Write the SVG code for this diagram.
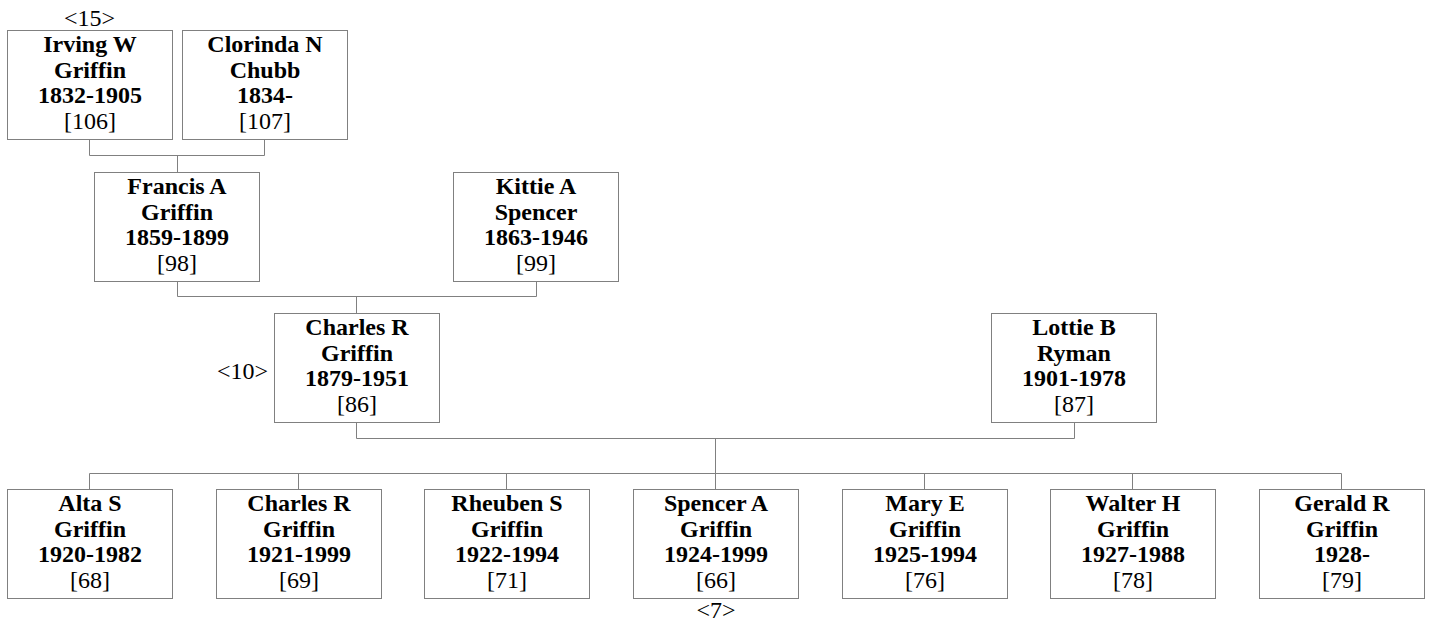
<svg xmlns="http://www.w3.org/2000/svg" width="1430" height="624" viewBox="0 0 1430 624">
<style>
.box{fill:#fff;stroke:#808080;stroke-width:1}
.ln{fill:none;stroke:#808080;stroke-width:1}
text{font-family:"Liberation Serif","Times New Roman",serif;font-size:24px;fill:#000;text-anchor:middle}
.b{font-weight:bold}
</style>
<rect width="1430" height="624" fill="#fff"/>
<g id="connectors">
<path class="ln" d="M89.5 140 V155.5 H264.5 V140 M177.5 155.5 V172"/>
<path class="ln" d="M177.5 281 V296.5 H536.5 V281 M356.5 296.5 V313"/>
<path class="ln" d="M356.5 422 V438.5 H1074.5 V422 M715.5 438.5 V473.5"/>
<path class="ln" d="M89.5 473.5 H1341.5 M89.5 473.5 V489 M298.5 473.5 V489 M506.5 473.5 V489 M715.5 473.5 V489 M924.5 473.5 V489 M1132.5 473.5 V489 M1341.5 473.5 V489"/>
</g>
<g id="n106"><rect class="box" x="7.5" y="30.5" width="165" height="109"/><text x="90" y="51.5" class="b">Irving W</text><text x="90" y="77.5" class="b">Griffin</text><text x="90" y="103" class="b">1832-1905</text><text x="90" y="129">[106]</text></g>
<g id="n107"><rect class="box" x="182.5" y="30.5" width="165" height="109"/><text x="265" y="51.5" class="b">Clorinda N</text><text x="265" y="77.5" class="b">Chubb</text><text x="265" y="103" class="b">1834-</text><text x="265" y="129">[107]</text></g>
<text x="89.5" y="26">&lt;15&gt;</text>
<g id="n98"><rect class="box" x="94.5" y="172.5" width="165" height="109"/><text x="177" y="193.5" class="b">Francis A</text><text x="177" y="219.5" class="b">Griffin</text><text x="177" y="245" class="b">1859-1899</text><text x="177" y="271">[98]</text></g>
<g id="n99"><rect class="box" x="453.5" y="172.5" width="165" height="109"/><text x="536" y="193.5" class="b">Kittie A</text><text x="536" y="219.5" class="b">Spencer</text><text x="536" y="245" class="b">1863-1946</text><text x="536" y="271">[99]</text></g>
<g id="n86"><rect class="box" x="274.5" y="313.5" width="165" height="109"/><text x="357" y="334.5" class="b">Charles R</text><text x="357" y="360.5" class="b">Griffin</text><text x="357" y="386" class="b">1879-1951</text><text x="357" y="412">[86]</text></g>
<text x="268" y="379" style="text-anchor:end">&lt;10&gt;</text>
<g id="n87"><rect class="box" x="991.5" y="313.5" width="165" height="109"/><text x="1074" y="334.5" class="b">Lottie B</text><text x="1074" y="360.5" class="b">Ryman</text><text x="1074" y="386" class="b">1901-1978</text><text x="1074" y="412">[87]</text></g>
<g id="n68"><rect class="box" x="7.5" y="489.5" width="165" height="109"/><text x="90" y="510.5" class="b">Alta S</text><text x="90" y="536.5" class="b">Griffin</text><text x="90" y="562" class="b">1920-1982</text><text x="90" y="588">[68]</text></g>
<g id="n69"><rect class="box" x="216.5" y="489.5" width="165" height="109"/><text x="299" y="510.5" class="b">Charles R</text><text x="299" y="536.5" class="b">Griffin</text><text x="299" y="562" class="b">1921-1999</text><text x="299" y="588">[69]</text></g>
<g id="n71"><rect class="box" x="424.5" y="489.5" width="165" height="109"/><text x="507" y="510.5" class="b">Rheuben S</text><text x="507" y="536.5" class="b">Griffin</text><text x="507" y="562" class="b">1922-1994</text><text x="507" y="588">[71]</text></g>
<g id="n66"><rect class="box" x="633.5" y="489.5" width="165" height="109"/><text x="716" y="510.5" class="b">Spencer A</text><text x="716" y="536.5" class="b">Griffin</text><text x="716" y="562" class="b">1924-1999</text><text x="716" y="588">[66]</text></g>
<text x="716" y="618">&lt;7&gt;</text>
<g id="n76"><rect class="box" x="842.5" y="489.5" width="165" height="109"/><text x="925" y="510.5" class="b">Mary E</text><text x="925" y="536.5" class="b">Griffin</text><text x="925" y="562" class="b">1925-1994</text><text x="925" y="588">[76]</text></g>
<g id="n78"><rect class="box" x="1050.5" y="489.5" width="165" height="109"/><text x="1133" y="510.5" class="b">Walter H</text><text x="1133" y="536.5" class="b">Griffin</text><text x="1133" y="562" class="b">1927-1988</text><text x="1133" y="588">[78]</text></g>
<g id="n79"><rect class="box" x="1259.5" y="489.5" width="165" height="109"/><text x="1342" y="510.5" class="b">Gerald R</text><text x="1342" y="536.5" class="b">Griffin</text><text x="1342" y="562" class="b">1928-</text><text x="1342" y="588">[79]</text></g>
</svg>
